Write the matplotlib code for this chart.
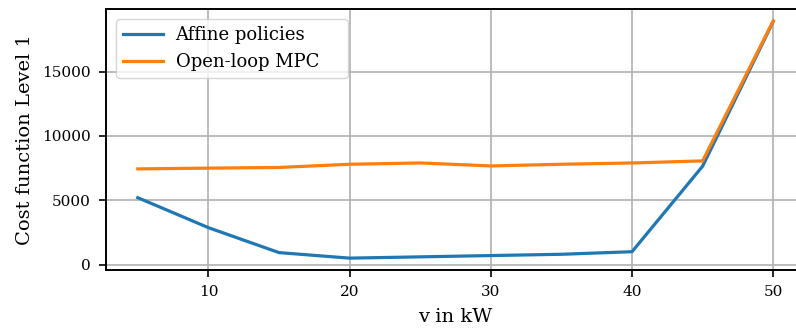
import numpy as np
import matplotlib.pyplot as plt

plt.rcParams['font.family'] = 'DejaVu Serif'

v = [5, 10, 15, 20, 25, 30, 35, 40, 45, 50]
cost_affine = [5200, 2870, 930, 500, 600, 700, 800, 1000, 7650, 18900]
cost_openloop = [7440, 7500, 7550, 7800, 7900, 7670, 7800, 7900, 8060, 18950]

fig = plt.figure(figsize=(7.96, 3.29), dpi=100)
ax = fig.add_axes([106/796, 59/329, 699/796, 261/329])

ax.plot(v, cost_affine, color='#1f77b4', lw=2.3, label='Affine policies')
ax.plot(v, cost_openloop, color='#ff7f0e', lw=2.3, label='Open-loop MPC')

ax.grid(True, color='#b0b0b0', lw=1.2)
ax.set_axisbelow(True)
for s in ax.spines.values():
    s.set_linewidth(1.4)
ax.tick_params(labelsize=11, width=1.2, length=5, pad=6)
ax.set_xticks([10, 20, 30, 40, 50])
ax.set_yticks([0, 5000, 10000, 15000])
ax.set_xlabel('v in kW', fontsize=14, labelpad=6)
ax.set_ylabel('Cost function Level 1', fontsize=14, labelpad=6)
ax.legend(loc='upper left', bbox_to_anchor=(0, 0, 0.3605, 1), mode='expand',
          fontsize=13, handlelength=2.2, handletextpad=0.7, borderaxespad=0.55)

fig.savefig('out.png', dpi=100)
